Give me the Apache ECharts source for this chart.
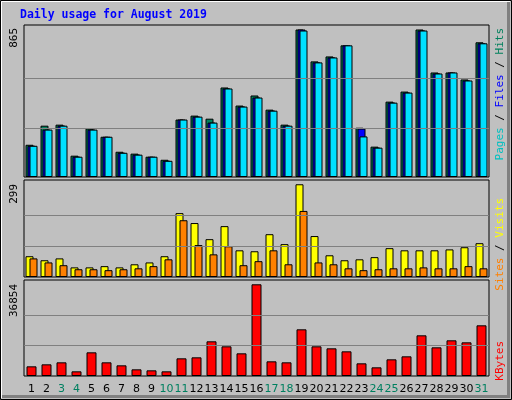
<!DOCTYPE html>
<html><head><meta charset="utf-8">
<script src="https://cdn.jsdelivr.net/npm/echarts@6/dist/echarts.min.js"></script>
<style>html,body{margin:0;padding:0;background:#c0c0c0}#c{width:512px;height:400px}</style>
</head><body><div id="c"></div>
<script>
const days = ['1','2','3','4','5','6','7','8','9','10','11','12','13','14','15','16','17','18','19','20','21','22','23','24','25','26','27','28','29','30','31'];
const weekend = ['3','4','10','11','17','18','24','25','31'];
const hits  = [189,301,307,125,284,236,148,137,119,101,337,360,342,525,419,478,395,307,865,678,707,772,289,178,442,501,865,613,613,572,790];
const files = [183,278,301,119,278,236,142,131,119,95,337,354,319,519,413,466,389,301,865,672,701,772,284,172,436,495,859,607,613,566,784];
const pages = [183,278,301,119,278,236,142,131,119,95,337,354,319,519,413,466,389,301,859,672,701,772,238,172,436,495,859,607,613,566,784];
const visits = [67,54,60,31,31,35,31,41,47,67,206,174,122,164,86,83,138,106,299,132,70,54,57,64,93,86,86,86,89,96,109];
const sites  = [60,47,38,25,25,22,25,28,35,57,183,103,73,99,38,51,86,41,213,47,41,28,22,25,28,28,31,28,28,35,28];
const kbytes = [3886,4690,5494,1876,9514,5494,4288,2680,2278,1876,7102,7504,13936,11926,9112,36854,5896,5494,18760,11926,11122,9916,5092,3484,6700,7906,16348,11524,14338,13534,20368];
const maxTop = 865, maxMid = 299, maxBot = 36854;

const grids = [
  {left:24, width:465, top:25, height:152},
  {left:24, width:465, top:180, height:97},
  {left:24, width:465, top:280, height:96}
];
const scales = [1.0305, 1.046, 1.047];
const maxes = [maxTop, maxMid, maxBot];
function gridLines(m){
  return {silent:true, symbol:'none', label:{show:false},
    lineStyle:{color:'#808080', type:'solid', width:1},
    data:[{yAxis:m/3},{yAxis:2*m/3}]};
}
const bar = (name, data, color, xi, w, gap, extra) => Object.assign({
  name, type:'bar', data, xAxisIndex:xi, yAxisIndex:xi, barWidth:w, barGap:gap,
  itemStyle:{color, borderColor:'#000', borderWidth:1}, animation:false
}, extra||{});

const option = {
  backgroundColor:'#c0c0c0',
  animation:false,
  grid: grids.map(g => Object.assign({show:true, backgroundColor:'#c0c0c0', borderColor:'#000', borderWidth:1}, g)),
  xAxis: [0,1,2].map(i => ({
    type:'category', data:days, gridIndex:i,
    axisLine:{show:false}, axisTick:{show:false},
    axisLabel: i===2 ? {show:true, margin:8, fontFamily:'DejaVu Sans', fontSize:11,
      color: (v) => weekend.includes(v) ? '#008060' : '#000', interval:0} : {show:false}
  })),
  yAxis: [0,1,2].map(i => ({
    type:'value', gridIndex:i, min:0, max:maxes[i]*scales[i],
    splitLine:{show:false}, axisLine:{show:false}, axisTick:{show:false}, axisLabel:{show:false}
  })),
  series: [
    bar('Hits', hits, '#00805c', 0, 8, '-75%', {markLine:gridLines(maxTop)}),
    bar('Files', files, '#0000ff', 0, 8, '-75%'),
    bar('Pages', pages, '#00e0ff', 0, 8, '-75%'),
    bar('Visits', visits, '#ffff00', 1, 8, '-50%', {markLine:gridLines(maxMid)}),
    bar('Sites', sites, '#ff8000', 1, 8, '-50%'),
    bar('KBytes', kbytes, '#ff0000', 2, 10, '0%', {markLine:gridLines(maxBot)})
  ],
  graphic: [
    {type:'rect', shape:{x:0.5,y:0.5,width:511,height:399}, style:{fill:null, stroke:'#000', lineWidth:1}, silent:true},
    {type:'polyline', shape:{points:[[1.5,398],[1.5,1.5],[510,1.5]]}, style:{stroke:'#fff', lineWidth:1, fill:null}},
    {type:'polyline', shape:{points:[[2,396.5],[508.5,396.5],[508.5,2]]}, style:{stroke:'#808080', lineWidth:3, fill:null}},
    {type:'text', x:20, y:15, style:{text:'Daily usage for August 2019', fill:'#0000ff',
      font:'bold 11.5px "DejaVu Sans Mono"', verticalAlign:'middle'}},
    {type:'text', x:14, y:28, rotation:Math.PI/2, style:{text:String(maxTop), fill:'#000',
      font:'11px "DejaVu Sans Mono"', align:'right', verticalAlign:'middle'}},
    {type:'text', x:14, y:184, rotation:Math.PI/2, style:{text:String(maxMid), fill:'#000',
      font:'11px "DejaVu Sans Mono"', align:'right', verticalAlign:'middle'}},
    {type:'text', x:14, y:284, rotation:Math.PI/2, style:{text:String(maxBot), fill:'#000',
      font:'11px "DejaVu Sans Mono"', align:'right', verticalAlign:'middle'}},
    {type:'text', x:500, y:28, rotation:Math.PI/2, style:{
      text:'{p|Pages}{s| / }{f|Files}{s| / }{h|Hits}', align:'right', verticalAlign:'middle',
      font:'11px "DejaVu Sans Mono"',
      rich:{p:{fill:'#00c0c0',font:'11px "DejaVu Sans Mono"'},f:{fill:'#0000ff',font:'11px "DejaVu Sans Mono"'},
            h:{fill:'#00805c',font:'11px "DejaVu Sans Mono"'},s:{fill:'#000',font:'11px "DejaVu Sans Mono"'}}}},
    {type:'text', x:500, y:198, rotation:Math.PI/2, style:{
      text:'{a|Sites}{s| / }{b|Visits}', align:'right', verticalAlign:'middle',
      font:'11px "DejaVu Sans Mono"',
      rich:{a:{fill:'#ff8000',font:'11px "DejaVu Sans Mono"'},b:{fill:'#ffff00',font:'11px "DejaVu Sans Mono"'},
            s:{fill:'#000',font:'11px "DejaVu Sans Mono"'}}}},
    {type:'text', x:500, y:341, rotation:Math.PI/2, style:{text:'KBytes', fill:'#ff0000',
      font:'11px "DejaVu Sans Mono"', align:'right', verticalAlign:'middle'}}
  ]
};
const chart = echarts.init(document.getElementById('c'), null, {renderer:'canvas'});
chart.setOption(option);
</script></body></html>
